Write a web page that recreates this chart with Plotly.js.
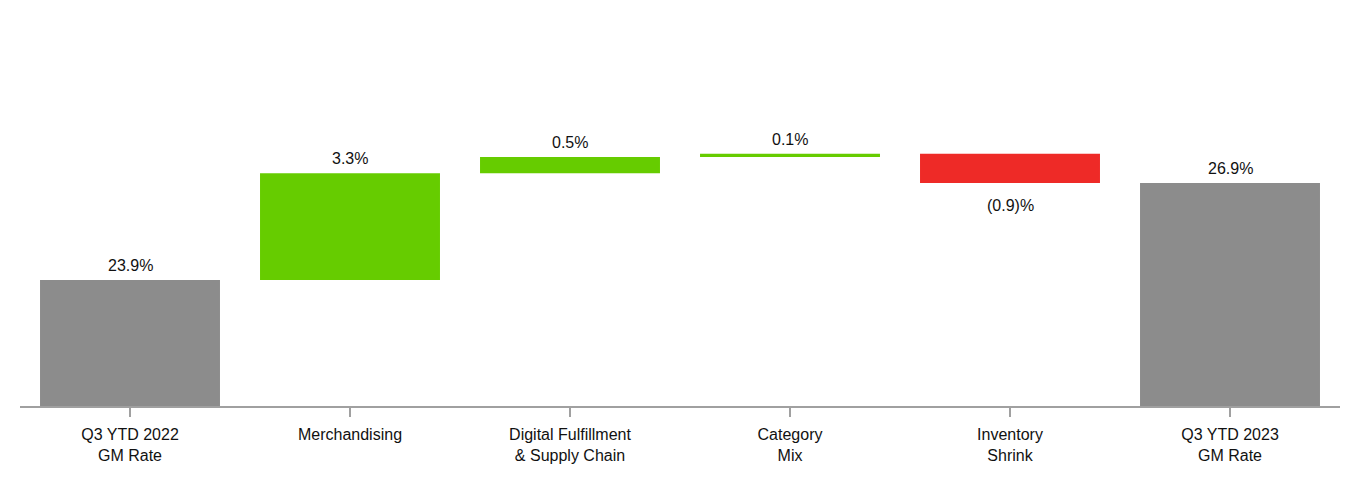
<!DOCTYPE html>
<html>
<head>
<meta charset="utf-8">
<script src="https://cdn.plot.ly/plotly-3.0.1.min.js"></script>
<style>html,body{margin:0;padding:0;background:#fff;}#chart{width:1360px;height:480px;}</style>
</head>
<body>
<div id="chart"></div>
<script>
const categories = ['Q3 YTD 2022<br>GM Rate', 'Merchandising', 'Digital Fulfillment<br>& Supply Chain', 'Category<br>Mix', 'Inventory<br>Shrink', 'Q3 YTD 2023<br>GM Rate'];
const measures = ['absolute', 'relative', 'relative', 'relative', 'relative', 'total'];
const values = [23.9, 3.3, 0.5, 0.1, -0.9, 26.9];
const valueLabels = ['23.9%', '3.3%', '0.5%', '0.1%', '(0.9)%', '26.9%'];

const GRAY = '#8C8C8C', GREEN = '#66CC00', RED = '#EE2A27';

const trace = {
  type: 'waterfall',
  x: categories,
  y: values,
  measure: measures,
  width: 0.818,
  increasing: {marker: {color: GREEN}},
  decreasing: {marker: {color: RED}},
  totals: {marker: {color: GRAY}},
  connector: {visible: false},
  hoverinfo: 'skip',
  cliponaxis: true
};

const annotations = [];
let cum = 0;
values.forEach((v, i) => {
  const m = measures[i];
  if (m === 'absolute') cum = v;
  else if (m === 'relative') cum += v;
  const neg = m === 'relative' && v < 0;
  annotations.push({
    x: categories[i], y: cum, xref: 'x', yref: 'y',
    text: valueLabels[i], showarrow: false,
    yanchor: neg ? 'top' : 'bottom',
    yshift: neg ? -12 : 4,
    font: {family: 'Liberation Sans, Arial, sans-serif', size: 16, color: '#111'}
  });
});

const layout = {
  width: 1360, height: 480,
  margin: {l: 20, r: 20, t: 18, b: 74},
  paper_bgcolor: '#fff', plot_bgcolor: '#fff',
  showlegend: false,
  font: {family: 'Liberation Sans, Arial, sans-serif', size: 16, color: '#111'},
  xaxis: {
    type: 'category',
    showline: true, linecolor: '#A0A0A0', linewidth: 2,
    ticks: 'outside', ticklen: 9, tickwidth: 2, tickcolor: '#A0A0A0',
    ticklabelstandoff: 4,
    showgrid: false, zeroline: false,
    tickfont: {size: 16, color: '#111'}
  },
  yaxis: {
    range: [20, 32], visible: false, showgrid: false, zeroline: false, fixedrange: true
  },
  annotations: annotations
};

Plotly.newPlot('chart', [trace], layout, {displayModeBar: false, staticPlot: true});
</script>
</body>
</html>
